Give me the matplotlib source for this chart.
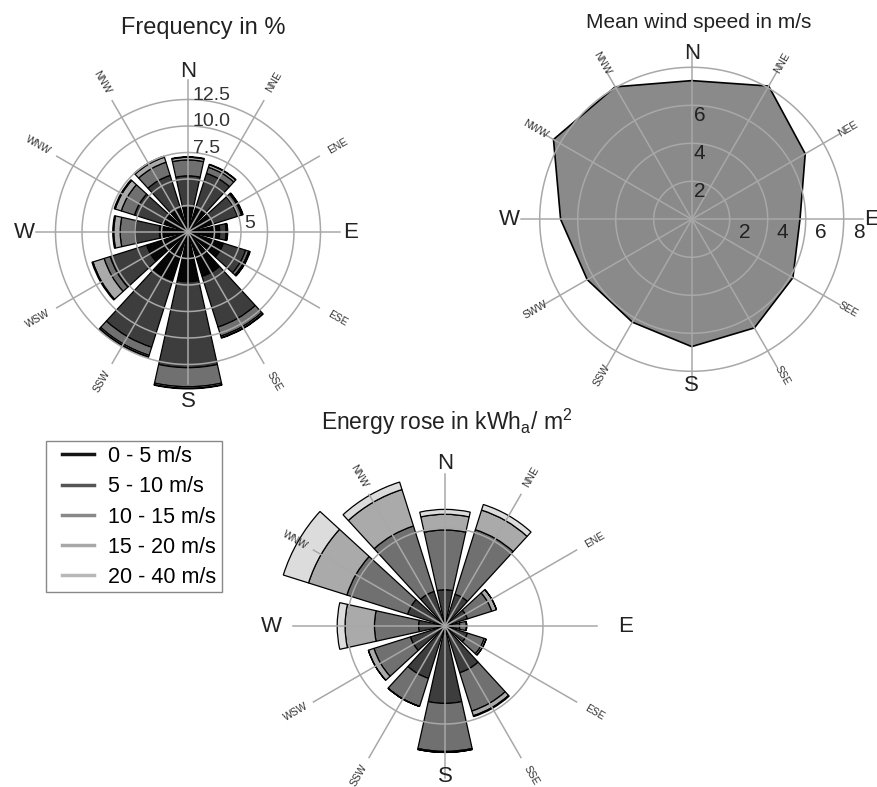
import numpy as np
import matplotlib
matplotlib.use("Agg")
import matplotlib.pyplot as plt
from matplotlib.lines import Line2D
from matplotlib.patches import Rectangle

plt.rcParams["font.family"] = ["Liberation Sans", "DejaVu Sans"]
plt.rcParams["mathtext.fontset"] = "custom"
plt.rcParams["mathtext.rm"] = "Liberation Sans"

# data

dir_deg = [0, 30, 60, 90, 120, 150, 180, 210, 240, 270, 300, 330]
dir_names = ["N", "NNE", "ENE", "E", "ESE", "SSE", "S", "SSW", "WSW", "W", "WNW", "NNW"]
dir_names_speed = ["N", "NNE", "NEE", "E", "SEE", "SSE", "S", "SSW", "SWW", "W", "NWW", "NNW"]
speed_classes = ["0 - 5 m/s", "5 - 10 m/s", "10 - 15 m/s", "15 - 20 m/s", "20 - 40 m/s"]

# frequency in % per speed class
freq_0_5   = [2.3, 2.3, 2.5, 3.0, 3.5, 4.4, 4.7, 4.8, 4.1, 2.7, 2.5, 2.3]
freq_5_10  = [3.0, 3.5, 2.4, 0.6, 2.2, 5.0, 8.1, 6.6, 3.6, 2.3, 2.8, 3.3]
freq_10_15 = [1.5, 0.6, 0.4, 0.1, 0.3, 0.9, 1.8, 0.8, 0.6, 1.4, 1.3, 1.3]
freq_15_20 = [0.25, 0.25, 0.1, 0.0, 0.1, 0.15, 0.15, 0.15, 1.1, 0.6, 0.6, 0.5]
freq_20_40 = [0.05, 0.05, 0.05, 0.05, 0.05, 0.05, 0.05, 0.05, 0.1, 0.1, 0.1, 0.1]
freq_ticks = [2.5, 5, 7.5, 10, 12.5]

# mean wind speed in m/s
mean_speed = [7.3, 8.1, 6.9, 5.7, 6.15, 6.6, 6.7, 6.25, 6.35, 6.9, 8.4, 8.05]
speed_ticks = [2, 4, 6, 8]

# energy in kWh_a/m^2 per speed class
energy_0_5   = [5, 5, 5, 4, 5, 6, 8, 6, 5, 4, 5, 5]
energy_5_10  = [32, 29, 19, 11, 19, 44, 71, 50, 32, 23, 35, 32]
energy_10_15 = [61, 69, 26, 7, 18, 41, 49, 30, 39, 45, 65, 70]
energy_15_20 = [16, 21, 5, 0, 2, 5, 1, 0, 6, 30, 41, 39]
energy_20_40 = [5, 6, 0, 0, 0, 1, 0, 0, 0, 8, 27, 8]
energy_ticks = [100]

# styles

class_colors = ["#050505", "#3d3d3d", "#707070", "#aaaaaa", "#dcdcdc"]
legend_colors = ["#151515", "#555555", "#888888", "#a8a8a8", "#b8b8b8"]
GRID = "#a8a8a8"
TXT = "#222222"

FIG_W, FIG_H = 877, 787
fig = plt.figure(figsize=(FIG_W / 100, FIG_H / 100), dpi=100)


def polar_axes(cx, cy, px_per_unit, rmax):
    """polar axes centred on pixel (cx, cy) of the figure"""
    rad = px_per_unit * rmax
    ax = fig.add_axes([(cx - rad) / FIG_W, (FIG_H - cy - rad) / FIG_H,
                       2 * rad / FIG_W, 2 * rad / FIG_H], projection="polar")
    ax.set_theta_zero_location("N")
    ax.set_theta_direction(-1)
    ax.set_ylim(0, rmax)
    ax.set_axis_off()
    return ax


def draw_grid(ax, circles, spoke_len):
    t = np.linspace(0, 2 * np.pi, 361)
    for r in circles:
        ax.plot(t, np.full_like(t, r), color=GRID, lw=1.1, zorder=3)
    for d in dir_deg:
        ax.plot([np.deg2rad(d)] * 2, [0, spoke_len], color=GRID, lw=1.1, zorder=3)


def draw_dir_labels(ax, names, small_r, card_r):
    for d, name in zip(dir_deg, names):
        th = np.deg2rad(d)
        if d % 90 == 0:
            ax.text(th, card_r[d // 90], name, fontsize=16, color=TXT,
                    ha="center", va="center")
        else:
            rot = 90 - d
            if rot < -90:
                rot += 180
            ax.text(th, small_r, name, fontsize=7.5, color="#333333", rotation=rot,
                    rotation_mode="anchor", ha="center", va="center")


def stacked_rose(ax, classes):
    theta = np.deg2rad(dir_deg)
    bottom = np.zeros(len(dir_deg))
    for vals, col in zip(classes, class_colors):
        vals = np.array(vals, dtype=float)
        ax.bar(theta, vals, width=np.deg2rad(25), bottom=bottom, color=col,
               edgecolor="black", lw=0.9, zorder=2)
        bottom += vals


# frequency rose (top left)

ax1 = polar_axes(188, 232, 10.6, 17)
stacked_rose(ax1, [freq_0_5, freq_5_10, freq_10_15, freq_15_20, freq_20_40])
draw_grid(ax1, freq_ticks, 14.3)
draw_dir_labels(ax1, dir_names, 16.3, [15.1, 15.3, 16.0, 15.4])
for v in freq_ticks[2:]:
    ax1.annotate(f"{v:.1f}", xy=(0, v), xytext=(5, 4), textcoords="offset pixels",
                 fontsize=14, color="#333333", ha="left", va="center")
ax1.annotate("5", xy=(np.pi / 2, 5), xytext=(9, 8), textcoords="offset pixels",
             fontsize=14, color="#333333", ha="center", va="center")

# mean wind speed (top right)

ax2 = polar_axes(691.7, 219.3, 19.0, 9.8)
th = np.deg2rad(dir_deg + [dir_deg[0]])
ax2.fill(th, mean_speed + [mean_speed[0]], facecolor="#8a8a8a",
         edgecolor="black", lw=1.2, zorder=2)
draw_grid(ax2, speed_ticks, 9.0)
draw_dir_labels(ax2, dir_names_speed, 9.5, [8.75, 9.45, 8.75, 9.6])
for v in speed_ticks[:3]:
    ax2.annotate(str(v), xy=(0, v), xytext=(8, -10), textcoords="offset pixels",
                 fontsize=15, color=TXT, ha="center", va="center")
for v in speed_ticks:
    ax2.annotate(str(v), xy=(np.pi / 2, v), xytext=(15, -13), textcoords="offset pixels",
                 fontsize=15, color=TXT, ha="center", va="center")

# energy rose (bottom)

ax3 = polar_axes(445, 626, 0.98, 185)
stacked_rose(ax3, [energy_0_5, energy_5_10, energy_10_15, energy_15_20, energy_20_40])
draw_grid(ax3, energy_ticks, 155)
draw_dir_labels(ax3, dir_names, 176, [166, 184, 154, 177])

# titles

fig.text(203 / FIG_W, 1 - 28 / FIG_H, "Frequency in %", fontsize=17, color=TXT,
         ha="center", va="center")
fig.text(699 / FIG_W, 1 - 22 / FIG_H, "Mean wind speed in m/s", fontsize=15,
         color=TXT, ha="center", va="center")
fig.text(447 / FIG_W, 1 - 422 / FIG_H, r"Energy rose in kWh$_{\rm a}$/ m$^{2}$",
         fontsize=16.5, color=TXT, ha="center", va="center")

# legend: entries without frame, box drawn as a separate rectangle

handles = [Line2D([0], [0], color=c, lw=2.5) for c in legend_colors]
fig.legend(handles, speed_classes, loc="upper left",
           bbox_to_anchor=(62 / FIG_W, 1 - 446 / FIG_H), borderaxespad=0,
           frameon=False, fontsize=15.5, handlelength=1.5, handletextpad=0.65,
           labelspacing=0.43, borderpad=0)
fig.patches.append(Rectangle((46 / FIG_W, 1 - 592 / FIG_H), 176 / FIG_W, 151 / FIG_H,
                             transform=fig.transFigure, fill=False,
                             edgecolor="#888888", lw=1.0))

fig.savefig("out.png", dpi=100, facecolor="white")
